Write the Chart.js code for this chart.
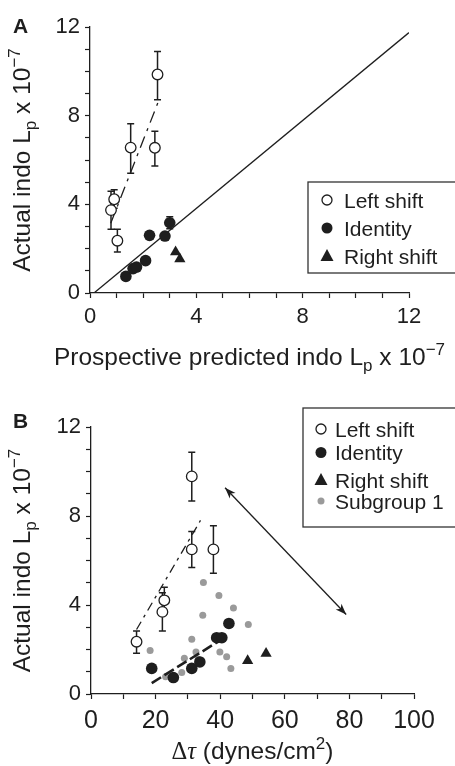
<!DOCTYPE html>
<html>
<head>
<meta charset="utf-8">
<script src="https://cdn.jsdelivr.net/npm/chart.js@4.4.1/dist/chart.umd.min.js"></script>
<style>
  html, body { margin: 0; padding: 0; background: #fff; }
  canvas { display: block; }
</style>
</head>
<body>
<canvas id="chartA" width="455" height="383"></canvas>
<canvas id="chartB" width="455" height="383"></canvas>
<script>
// ---- Panel A data (prospective predicted vs actual indo Lp) ----
const leftA_x = [0.79, 0.91, 1.03, 1.53, 2.54, 2.44];
const leftA_y = [3.74, 4.23, 2.36, 6.56, 9.86, 6.55];
const leftA_hi = [4.59, 4.66, 2.88, 7.64, 10.9, 7.3];
const leftA_lo = [2.88, 3.82, 1.85, 5.4, 8.72, 5.73];
const identA_x = [1.35, 1.62, 1.75, 2.09, 2.24, 2.82, 3.0];
const identA_y = [0.75, 1.1, 1.17, 1.46, 2.6, 2.57, 3.17];
const identA_hi = [null, null, null, null, null, null, 3.44];
const identA_lo = [null, null, null, null, null, null, 2.9];
const rightA_x = [3.22, 3.38];
const rightA_y = [1.85, 1.53];
const leftFitA_x = [0.78, 2.56];
const leftFitA_y = [3.15, 8.6];
const unityA_x = [0.15, 12];
const unityA_y = [0, 11.75];

// ---- Panel B data (delta tau vs actual indo Lp) ----
const leftB_x = [14.1, 22.1, 22.7, 31.2, 31.2, 37.9];
const leftB_y = [2.35, 3.69, 4.21, 9.78, 6.5, 6.5];
const leftB_hi = [2.83, 4.55, 4.8, 10.86, 7.3, 7.56];
const leftB_lo = [1.83, 2.83, 3.62, 8.67, 5.68, 5.43];
const identB_x = [18.8, 25.5, 31.2, 33.7, 38.9, 40.5, 42.7];
const identB_y = [1.15, 0.74, 1.15, 1.44, 2.53, 2.53, 3.17];
const rightB_x = [48.5, 54.2];
const rightB_y = [1.49, 1.82];
const subB_x = [18.3, 23.1, 28.1, 28.9, 31.2, 32.5, 33.2, 34.6, 34.8, 39.6, 39.9, 42.0, 43.3, 44.1, 48.7];
const subB_y = [1.96, 0.77, 0.97, 1.61, 2.46, 1.89, 1.56, 3.54, 5.01, 4.43, 1.89, 1.67, 1.15, 3.87, 3.12];
const leftFitB_x = [14.1, 33.9];
const leftFitB_y = [2.9, 7.8];
const identFitB_x = [18.8, 40.5];
const identFitB_y = [0.49, 2.46];
const arrowB_x = [41.5, 79];
const arrowB_y = [9.27, 3.57];

const FONT = '"Liberation Sans", Arial, Helvetica, sans-serif';
const INK = '#1e1e1e';

function pts(xs, ys) {
  return xs.map((x, i) => ({ x: x, y: ys[i] }));
}

function axis(min, max, step, every, size, pad) {
  return {
    type: 'linear', min: min, max: max,
    border: { display: true, color: INK, width: 1.3 },
    grid: { display: true, drawOnChartArea: false, drawTicks: true, tickLength: 5, tickColor: INK, tickWidth: 1.2 },
    ticks: {
      stepSize: step, autoSkip: false, maxRotation: 0, padding: pad, color: INK,
      font: { family: FONT, size: size },
      callback: v => (Math.round(v) % every === 0 ? v : '')
    }
  };
}

// text with sub/superscripts, centred on cx, baseline at cy
function drawRich(ctx, parts, size, cx, cy, rot) {
  ctx.save();
  ctx.translate(cx, cy);
  if (rot) ctx.rotate(rot);
  const fontOf = p => {
    const s = (p.sub || p.sup) ? Math.round(size * 0.68) : size;
    return (p.style || '') + ' ' + s + 'px ' + (p.family || FONT);
  };
  let w = 0;
  parts.forEach(p => { ctx.font = fontOf(p); w += ctx.measureText(p.t).width; });
  let x = -w / 2;
  ctx.fillStyle = INK;
  ctx.textBaseline = 'alphabetic';
  parts.forEach(p => {
    ctx.font = fontOf(p);
    const dy = p.sub ? size * 0.26 : p.sup ? -size * 0.4 : 0;
    ctx.fillText(p.t, x, dy);
    x += ctx.measureText(p.t).width;
  });
  ctx.restore();
}

function drawMarker(ctx, kind, x, y) {
  ctx.save();
  ctx.lineWidth = 1.3;
  ctx.strokeStyle = INK;
  ctx.beginPath();
  if (kind === 'open') {
    ctx.arc(x, y, 5, 0, Math.PI * 2); ctx.fillStyle = '#fff'; ctx.fill(); ctx.stroke();
  } else if (kind === 'filled') {
    ctx.arc(x, y, 5.5, 0, Math.PI * 2); ctx.fillStyle = INK; ctx.fill();
  } else if (kind === 'tri') {
    ctx.moveTo(x, y - 7); ctx.lineTo(x + 6.5, y + 5); ctx.lineTo(x - 6.5, y + 5); ctx.closePath();
    ctx.fillStyle = INK; ctx.fill();
  } else {
    ctx.arc(x, y, 3.5, 0, Math.PI * 2); ctx.fillStyle = '#9a9a9a'; ctx.fill();
  }
  ctx.restore();
}

// error bars, legend box, titles, arrow heads
const extras = {
  id: 'extras',
  beforeDatasetsDraw(chart) {
    const ctx = chart.ctx;
    const xs = chart.scales.x, ys = chart.scales.y;
    ctx.save();
    ctx.strokeStyle = INK;
    ctx.lineWidth = 1.5;
    chart.data.datasets.forEach(ds => {
      if (!ds.errHi) return;
      ds.data.forEach((p, j) => {
        if (ds.errHi[j] == null) return;
        const px = xs.getPixelForValue(p.x);
        const y1 = ys.getPixelForValue(ds.errHi[j]);
        const y2 = ys.getPixelForValue(ds.errLo[j]);
        ctx.beginPath();
        ctx.moveTo(px, y1); ctx.lineTo(px, y2);
        ctx.moveTo(px - 3.5, y1); ctx.lineTo(px + 3.5, y1);
        ctx.moveTo(px - 3.5, y2); ctx.lineTo(px + 3.5, y2);
        ctx.stroke();
      });
    });
    ctx.restore();
  },
  afterDraw(chart) {
    const ctx = chart.ctx;
    const o = chart.options.plugins.extras;
    const area = chart.chartArea;
    // arrow heads
    chart.data.datasets.forEach((ds, i) => {
      if (!ds.arrow) return;
      const el = chart.getDatasetMeta(i).data;
      const ends = [[el[0], el[1]], [el[1], el[0]]];
      ctx.save();
      ctx.fillStyle = INK;
      ends.forEach(([tip, from]) => {
        const a = Math.atan2(tip.y - from.y, tip.x - from.x);
        ctx.beginPath();
        ctx.moveTo(tip.x, tip.y);
        ctx.lineTo(tip.x - 11 * Math.cos(a) + 4 * Math.sin(a), tip.y - 11 * Math.sin(a) - 4 * Math.cos(a));
        ctx.lineTo(tip.x - 8 * Math.cos(a), tip.y - 8 * Math.sin(a));
        ctx.lineTo(tip.x - 11 * Math.cos(a) - 4 * Math.sin(a), tip.y - 11 * Math.sin(a) + 4 * Math.cos(a));
        ctx.closePath();
        ctx.fill();
      });
      ctx.restore();
    });
    // legend box
    const lg = o.legend;
    ctx.save();
    ctx.fillStyle = '#fff';
    ctx.fillRect(lg.left, lg.top, 470 - lg.left, lg.bottom - lg.top);
    ctx.strokeStyle = '#333';
    ctx.lineWidth = 1.3;
    ctx.strokeRect(lg.left, lg.top, 470 - lg.left, lg.bottom - lg.top);
    ctx.font = '21px ' + FONT;
    ctx.fillStyle = INK;
    ctx.textBaseline = 'alphabetic';
    lg.items.forEach(it => {
      drawMarker(ctx, it.kind, lg.markX, it.y);
      ctx.fillStyle = INK;
      ctx.fillText(it.text, lg.textX, it.y + 7.5);
    });
    ctx.restore();
    // axis titles + panel letter
    const midX = (area.left + area.right) / 2;
    const midY = (area.top + area.bottom) / 2;
    drawRich(ctx, o.xTitle, o.titleSize, midX + o.xShift, o.xTitleY, 0);
    drawRich(ctx, o.yTitle, o.titleSize, 30, midY, -Math.PI / 2);
    ctx.save();
    ctx.font = 'bold 21px ' + FONT;
    ctx.fillStyle = INK;
    ctx.fillText(o.letter, 13, o.letterY);
    ctx.restore();
  }
};

const yTitle = [{ t: 'Actual indo L' }, { t: 'p', sub: true }, { t: ' x 10' }, { t: '\u22127', sup: true }];

function build(id, datasets, xAx, yAx, pad, leftW, bottomH, extraOpts) {
  xAx.afterFit = s => { s.height = bottomH; };
  yAx.afterFit = s => { s.width = leftW; };
  return new Chart(document.getElementById(id), {
    type: 'scatter',
    data: { datasets: datasets },
    options: {
      responsive: false,
      animation: false,
      layout: { padding: pad },
      scales: { x: xAx, y: yAx },
      plugins: { legend: { display: false }, tooltip: { enabled: false }, extras: extraOpts }
    },
    plugins: [extras]
  });
}

// first dataset is drawn on top
const dsA = [
  { label: 'Left shift', data: pts(leftA_x, leftA_y), errHi: leftA_hi, errLo: leftA_lo,
    pointStyle: 'circle', pointRadius: 5.3, backgroundColor: '#fff', borderColor: INK, borderWidth: 1.3 },
  { label: 'Identity', data: pts(identA_x, identA_y), errHi: identA_hi, errLo: identA_lo,
    pointStyle: 'circle', pointRadius: 5.8, backgroundColor: INK, borderColor: INK, borderWidth: 0 },
  { label: 'Right shift', data: pts(rightA_x, rightA_y),
    pointStyle: 'triangle', pointRadius: 6.5, backgroundColor: INK, borderColor: INK, borderWidth: 0 },
  { label: 'Left fit', data: pts(leftFitA_x, leftFitA_y), showLine: true, pointRadius: 0,
    borderColor: INK, borderWidth: 1.3, borderDash: [12, 6, 3, 6] },
  { label: 'Unity', data: pts(unityA_x, unityA_y), showLine: true, pointRadius: 0,
    borderColor: INK, borderWidth: 1.3 }
];

const dsB = [
  { label: 'Left shift', data: pts(leftB_x, leftB_y), errHi: leftB_hi, errLo: leftB_lo,
    pointStyle: 'circle', pointRadius: 5.3, backgroundColor: '#fff', borderColor: INK, borderWidth: 1.3 },
  { label: 'Identity', data: pts(identB_x, identB_y),
    pointStyle: 'circle', pointRadius: 5.8, backgroundColor: INK, borderColor: INK, borderWidth: 0 },
  { label: 'Right shift', data: pts(rightB_x, rightB_y),
    pointStyle: 'triangle', pointRadius: 6.5, backgroundColor: INK, borderColor: INK, borderWidth: 0 },
  { label: 'Identity fit', data: pts(identFitB_x, identFitB_y), showLine: true, pointRadius: 0,
    borderColor: INK, borderWidth: 2.6, borderDash: [11, 4] },
  { label: 'Left fit', data: pts(leftFitB_x, leftFitB_y), showLine: true, pointRadius: 0,
    borderColor: INK, borderWidth: 1.3, borderDash: [9, 5, 3, 5] },
  { label: 'Subgroup 1', data: pts(subB_x, subB_y),
    pointStyle: 'circle', pointRadius: 3.5, backgroundColor: '#9a9a9a', borderWidth: 0 },
  { label: 'Arrow', data: pts(arrowB_x, arrowB_y), showLine: true, pointRadius: 0, arrow: true,
    borderColor: INK, borderWidth: 1.3 }
];

build('chartA', dsA, axis(0, 12, 1, 4, 22, 6), axis(0, 12, 1, 4, 22, 5),
  { top: 27, right: 46, left: 0, bottom: 0 }, 90, 90, {
    letter: 'A', letterY: 33, titleSize: 24.5, xTitleY: 365, xShift: 0,
    xTitle: [{ t: 'Prospective predicted indo L' }, { t: 'p', sub: true }, { t: ' x 10' }, { t: '\u22127', sup: true }],
    yTitle: yTitle,
    legend: { left: 308, top: 182, bottom: 273, markX: 327, textX: 344, items: [
      { kind: 'open', text: 'Left shift', y: 200 },
      { kind: 'filled', text: 'Identity', y: 228 },
      { kind: 'tri', text: 'Right shift', y: 256 }
    ] }
  });

build('chartB', dsB, axis(0, 100, 10, 20, 25, 7), axis(0, 12, 1, 4, 22, 5),
  { top: 44, right: 41, left: 0, bottom: 0 }, 91, 72, {
    letter: 'B', letterY: 45, titleSize: 24.5, xTitleY: 376, xShift: 0,
    xTitle: [{ t: '\u0394', family: '"Liberation Serif", serif' }, { t: '\u03c4', style: 'italic', family: '"Liberation Serif", serif' },
      { t: ' (dynes/cm' }, { t: '2', sup: true }, { t: ')' }],
    yTitle: yTitle,
    legend: { left: 303, top: 25, bottom: 144, markX: 321, textX: 335, items: [
      { kind: 'open', text: 'Left shift', y: 46 },
      { kind: 'filled', text: 'Identity', y: 69.5 },
      { kind: 'tri', text: 'Right shift', y: 97 },
      { kind: 'grey', text: 'Subgroup 1', y: 118 }
    ] }
  });
</script>
</body>
</html>
